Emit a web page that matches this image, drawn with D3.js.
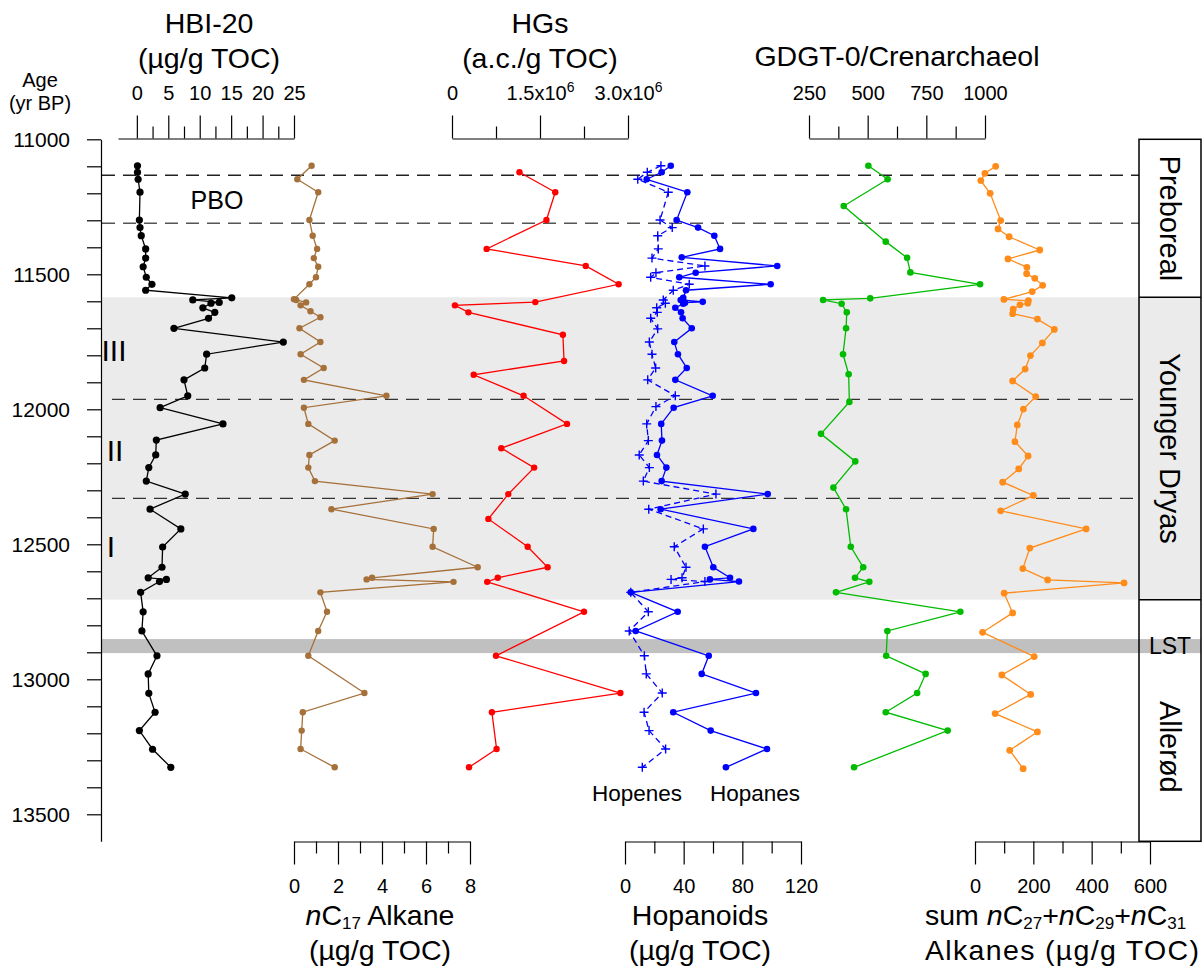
<!DOCTYPE html>
<html>
<head>
<meta charset="utf-8">
<script src="https://cdn.jsdelivr.net/npm/d3@7"></script>
<style>
  body { margin: 0; background: #fff; }
  text { font-family: "Liberation Sans", Arial, sans-serif; fill: #000; }
</style>
</head>
<body>
<div id="chart"></div>
<script>
// ages (yr BP) and values, one pair of arrays per record
const hbiAge = [11098,11122,11148,11196,11299,11327,11357,11406,11440,11472,11511,11537,11559,11587,11595,11604,11607,11624,11641,11663,11700,11751,11796,11847,11891,11950,11994,12054,12114,12169,12216,12266,12314,12370,12443,12510,12585,12624,12630,12638,12678,12750,12821,12913,12980,13052,13122,13190,13259,13326];
const hbi20 = [0.1,0.1,0.2,0.5,0.4,0.5,0.7,1.4,1.4,1.0,1.5,2.4,1.4,15.1,8.9,13.1,11.8,10.5,12.4,11.4,5.9,23.3,11.1,10.8,7.5,8.1,3.7,13.7,3.1,3.0,1.9,1.5,7.7,2.1,7.0,4.1,4.0,1.8,4.7,3.6,0.6,1.0,0.8,3.2,1.8,1.9,2.9,0.4,2.5,5.4];

const c17Age = [11098,11148,11196,11299,11357,11406,11440,11472,11511,11537,11592,11595,11604,11615,11637,11659,11700,11751,11796,11847,11891,11950,11994,12054,12116,12169,12216,12266,12314,12370,12443,12509,12585,12624,12630,12639,12678,12750,12821,12913,13051,13122,13190,13258,13326];
const c17 = [0.8,0.15,1.1,0.7,0.85,1.05,0.9,1.1,1.0,0.7,0.0,0.1,0.55,0.3,0.75,1.2,0.25,1.2,0.3,1.35,0.45,4.2,0.45,0.65,1.85,0.7,0.65,0.95,6.3,1.7,6.35,6.3,8.35,3.55,3.3,7.25,1.2,1.5,1.1,0.65,3.2,0.4,0.35,0.3,1.85];

const hgsAge = [11122,11196,11299,11406,11469,11537,11603,11615,11641,11724,11821,11872,11950,12054,12144,12216,12314,12406,12509,12585,12624,12639,12750,12913,13051,13122,13258,13326];
const hgs = [1.15e6,1.76e6,1.61e6,0.59e6,2.28e6,2.84e6,1.42e6,0.05e6,0.28e6,1.89e6,1.91e6,0.37e6,1.22e6,1.96e6,0.84e6,1.40e6,0.96e6,0.62e6,1.29e6,1.63e6,0.78e6,0.60e6,2.25e6,0.75e6,2.87e6,0.68e6,0.76e6,0.29e6];

const hopaneAge = [11098,11122,11148,11196,11299,11327,11357,11406,11437,11469,11494,11511,11537,11559,11587,11595,11602,11605,11609,11624,11641,11663,11700,11751,11796,11847,11891,11950,11994,12054,12116,12169,12216,12266,12314,12370,12443,12509,12585,12624,12630,12638,12678,12750,12821,12913,12980,13051,13122,13190,13258,13326];
const hopanes = [31.2,25.0,14.8,42.5,35.2,49.8,60.9,64.8,38.7,103.8,48.2,37.0,99.3,41.6,39.7,38.0,53.0,40.9,39.7,34.3,38.2,39.3,45.5,33.6,36.1,42.1,34.3,59.8,33.2,24.7,25.2,21.8,28.2,25.0,97.3,24.3,87.5,54.5,60.2,71.6,57.9,77.7,3.9,35.9,7.3,57.1,52.3,89.3,32.9,58.4,96.8,68.8];

const hopeneAge = [11098,11122,11148,11196,11299,11327,11357,11406,11440,11469,11494,11511,11537,11559,11595,11607,11624,11641,11663,11702,11751,11796,11847,11891,11950,11990,12054,12116,12169,12216,12266,12314,12370,12443,12509,12585,12624,12630,12638,12678,12750,12821,12913,12980,13051,13122,13190,13258,13326];
const hopenes = [24.5,15.2,8.7,29.5,23.9,32.2,22.3,22.7,18.4,54.5,21.1,17.5,43.8,32.9,26.1,27.5,21.6,22.0,17.5,22.3,16.6,18.4,20.9,15.5,34.3,21.1,14.8,15.9,9.7,16.6,12.5,62.0,16.2,53.4,33.6,41.6,38.9,31.4,54.5,3.9,15.9,2.9,13.2,14.5,25.4,13.0,16.4,27.7,11.8];

const gdgtAge = [11098,11148,11247,11379,11439,11493,11537,11589,11595,11609,11641,11700,11796,11870,11973,12091,12193,12290,12370,12509,12585,12624,12639,12678,12750,12821,12913,12980,13051,13122,13190,13326];
const gdgt = [503,585,398,577,668,682,979,511,310,389,411,408,395,419,422,301,447,354,408,428,481,446,507,365,895,584,579,747,711,577,841,442];

const sumAge = [11100,11126,11153,11200,11301,11332,11361,11410,11443,11474,11498,11515,11541,11564,11593,11598,11607,11613,11629,11646,11666,11704,11754,11801,11851,11895,11953,11999,12058,12120,12173,12221,12270,12319,12376,12443,12514,12590,12632,12643,12681,12754,12826,12916,12984,13056,13127,13195,13263,13331];
const sumAlk = [71,34,20,52,88,79,117,222,113,178,177,205,232,196,99,183,181,154,131,129,214,272,231,190,172,129,208,166,145,137,182,150,95,200,88,381,188,164,249,511,100,129,26,203,92,191,69,214,119,165];

// climate intervals and marker lines (yr BP)
const youngerDryas = [11585, 12705];
const lstBand = [12851, 12903];
const dashedTop = [11133, 11311];
const dashedSub = [11963, 12330];
const ageMajor = [11000, 11500, 12000, 12500, 13000, 13500];

const width = 1203, height = 976;
const svg = d3.select('#chart').append('svg')
    .attr('width', width)
    .attr('height', height);

const y = d3.scaleLinear().domain([11000, 13600]).range([139.3, 841.3]);

const xHbi = d3.scaleLinear().domain([-3, 25]).range([118, 294]);
const xC17 = d3.scaleLinear().domain([0, 8]).range([294, 470]);
const xHgs = d3.scaleLinear().domain([0, 3e6]).range([452, 628]);
const xHop = d3.scaleLinear().domain([0, 120]).range([625, 801]);
const xGdgt = d3.scaleLinear().domain([250, 1000]).range([809, 985]);
const xSum = d3.scaleLinear().domain([0, 600]).range([975, 1150]);

const axisX0 = 101, boxX0 = 1139, boxX1 = 1201;

// background bands
svg.append('rect')
    .attr('x', axisX0).attr('width', boxX1 - axisX0)
    .attr('y', y(youngerDryas[0])).attr('height', y(youngerDryas[1]) - y(youngerDryas[0]))
    .attr('fill', '#ebebeb');
svg.append('rect')
    .attr('x', axisX0).attr('width', boxX1 - axisX0)
    .attr('y', y(lstBand[0])).attr('height', y(lstBand[1]) - y(lstBand[0]))
    .attr('fill', '#c0c0c0');

// dashed horizons
dashedTop.forEach((a, i) => {
    svg.append('line')
        .attr('x1', axisX0 + 1).attr('x2', boxX0)
        .attr('y1', y(a)).attr('y2', y(a))
        .attr('stroke', i == 0 ? '#222' : '#555').attr('stroke-width', 1.5)
        .attr('stroke-dasharray', '13,8');
});
dashedSub.forEach(a => {
    svg.append('line')
        .attr('x1', 112).attr('x2', boxX0)
        .attr('y1', y(a)).attr('y2', y(a))
        .attr('stroke', '#333').attr('stroke-width', 1.3)
        .attr('stroke-dasharray', '13,8');
});

function styleAxis(g, size) {
    g.selectAll('.domain').attr('stroke', '#000').attr('stroke-width', 1.2);
    g.selectAll('.tick line').attr('stroke', '#000').attr('stroke-width', 1.2);
    g.selectAll('.tick text').style('font-size', size + 'px').attr('fill', '#000');
}

// value axis with labelled major ticks and short minor ticks
function valueAxis(scale, major, minor, fmt, yPos, top) {
    const make = top ? d3.axisTop : d3.axisBottom;
    const g = svg.append('g').attr('transform', `translate(0,${yPos})`)
        .call(make(scale).tickValues(major).tickSize(23).tickSizeOuter(0)
            .tickPadding(top ? 16 : 14).tickFormat(fmt));
    const gm = svg.append('g').attr('transform', `translate(0,${yPos})`)
        .call(make(scale).tickValues(minor).tickSize(12));
    gm.select('.domain').remove();
    gm.selectAll('text').remove();
    styleAxis(g, 20);
    styleAxis(gm, 20);
    return g;
}

valueAxis(xHbi, [0, 5, 10, 15, 20, 25], [2.5, 7.5, 12.5, 17.5, 22.5], d3.format('d'), 138.5, true);
const hgAxis = valueAxis(xHgs, [0, 1.5e6, 3e6], [0.75e6, 2.25e6], d => d, 138.5, true);
hgAxis.selectAll('.tick text').each(function(d) {
    const t = d3.select(this).text(null);
    if (d == 0) { t.text('0'); return; }
    t.append('tspan').text((d / 1e6).toFixed(1) + 'x10');
    t.append('tspan').attr('dy', -8).style('font-size', '14px').text('6');
});
valueAxis(xGdgt, [250, 500, 750, 1000], [375, 625, 875], d3.format('d'), 138.5, true);

valueAxis(xC17, [0, 2, 4, 6, 8], [1, 3, 5, 7], d3.format('d'), 841.5, false);
valueAxis(xHop, [0, 40, 80, 120], [20, 60, 100], d3.format('d'), 841.5, false);
valueAxis(xSum, [0, 200, 400, 600], [100, 300, 500], d3.format('d'), 841.5, false);

// age axis
const ageMinor = d3.range(11100, 13600, 100).filter(a => !ageMajor.includes(a));
const ageAxis = svg.append('g').attr('transform', `translate(${axisX0},0)`)
    .call(d3.axisLeft(y).tickValues(ageMajor).tickSize(14).tickSizeOuter(0)
        .tickPadding(17).tickFormat(d3.format('d')));
const ageMinorAxis = svg.append('g').attr('transform', `translate(${axisX0},0)`)
    .call(d3.axisLeft(y).tickValues(ageMinor).tickSize(14));
ageMinorAxis.select('.domain').remove();
ageMinorAxis.selectAll('text').remove();
styleAxis(ageAxis, 21);
styleAxis(ageMinorAxis, 21);

// records
function drawSeries(ages, vals, x, color, r, opts) {
    opts = opts || {};
    const pts = ages.map((a, i) => [a, vals[i]]);
    const line = d3.line().x(d => x(d[1])).y(d => y(d[0]));
    svg.append('path')
        .datum(pts)
        .attr('d', line)
        .attr('fill', 'none')
        .attr('stroke', color)
        .attr('stroke-width', 1.3)
        .attr('stroke-dasharray', opts.dash || null);
    if (opts.plus) {
        svg.append('g').selectAll('path')
            .data(pts)
            .join('path')
            .attr('d', d => `M${x(d[1]) - 4.5},${y(d[0])}h9M${x(d[1])},${y(d[0]) - 4.5}v9`)
            .attr('stroke', color)
            .attr('stroke-width', 1.4);
    } else {
        svg.append('g').selectAll('circle')
            .data(pts)
            .join('circle')
            .attr('cx', d => x(d[1]))
            .attr('cy', d => y(d[0]))
            .attr('r', r)
            .attr('fill', color);
    }
}

drawSeries(hbiAge, hbi20, xHbi, '#000', 3.6);
drawSeries(c17Age, c17, xC17, '#a5703a', 3.2);
drawSeries(hgsAge, hgs, xHgs, '#ff0000', 3.2);
drawSeries(hopeneAge, hopenes, xHop, '#0000ff', 3, { dash: '6,4', plus: true });
drawSeries(hopaneAge, hopanes, xHop, '#0000ff', 3.3);
drawSeries(gdgtAge, gdgt, xGdgt, '#00bb00', 3.3);
drawSeries(sumAge, sumAlk, xSum, '#ff8c1a', 3.4);

// stratigraphy box
const box = svg.append('g');
box.append('rect')
    .attr('x', boxX0).attr('y', y(11000))
    .attr('width', boxX1 - boxX0).attr('height', y(13600) - y(11000))
    .attr('fill', 'none').attr('stroke', '#000').attr('stroke-width', 1.5);
youngerDryas.forEach(a => {
    box.append('line')
        .attr('x1', boxX0).attr('x2', boxX1)
        .attr('y1', y(a)).attr('y2', y(a))
        .attr('stroke', '#000').attr('stroke-width', 1.5);
});
const zones = [['Preboreal', 11293], ['Younger Dryas', 12145], ['Allerød', 13250]];
zones.forEach(z => {
    box.append('text')
        .attr('transform', `translate(${(boxX0 + boxX1) / 2},${y(z[1])}) rotate(90)`)
        .attr('text-anchor', 'middle')
        .attr('dy', '0.35em')
        .style('font-size', '29px')
        .text(z[0]);
});
box.append('text')
    .attr('x', (boxX0 + boxX1) / 2).attr('y', y(12877))
    .attr('dy', '0.36em')
    .attr('text-anchor', 'middle')
    .style('font-size', '23px')
    .text('LST');

// titles
function label(x, yy, txt, size, anchor) {
    return svg.append('text')
        .attr('x', x).attr('y', yy)
        .attr('text-anchor', anchor || 'middle')
        .style('font-size', size + 'px')
        .text(txt);
}
label(209, 33, 'HBI-20', 28.5);
label(209, 68, '(µg/g TOC)', 28.5);
label(540, 33, 'HGs', 28.5);
label(540, 68, '(a.c./g TOC)', 28.5);
label(897, 66, 'GDGT-0/Crenarchaeol', 28.5);
label(40, 87, 'Age', 20);
label(40, 110, '(yr BP)', 20);

// subscripted alkane titles: italic n, smaller lowered carbon number
function alkane(t, n, tail) {
    t.append('tspan').style('font-style', 'italic').text('n');
    t.append('tspan').text('C');
    t.append('tspan').attr('dy', 4).style('font-size', '17px').text(n);
    if (tail) t.append('tspan').attr('dy', -4).text(tail);
}

const c17Title = svg.append('text').attr('x', 380).attr('y', 925)
    .attr('text-anchor', 'middle').style('font-size', '28.5px');
alkane(c17Title, '17', ' Alkane');
label(380, 960, '(µg/g TOC)', 28.5);

label(700, 925, 'Hopanoids', 28.5);
label(700, 960, '(µg/g TOC)', 28.5);

const sumTitle = svg.append('text').attr('x', 925).attr('y', 925)
    .style('font-size', '28.5px');
sumTitle.append('tspan').text('sum ');
alkane(sumTitle, '27', '+');
alkane(sumTitle, '29', '+');
alkane(sumTitle, '31');
label(925, 960, 'Alkanes (µg/g TOC)', 28.5, 'start')
    .attr('textLength', 274)
    .attr('lengthAdjust', 'spacing');

// annotations
label(217, 209, 'PBO', 25);
label(114, 361, 'III', 30);
label(115, 461, 'II', 30);
label(111, 557, 'I', 30);
label(637, 801, 'Hopenes', 22.5);
label(755, 801, 'Hopanes', 22.5);
</script>
</body>
</html>
